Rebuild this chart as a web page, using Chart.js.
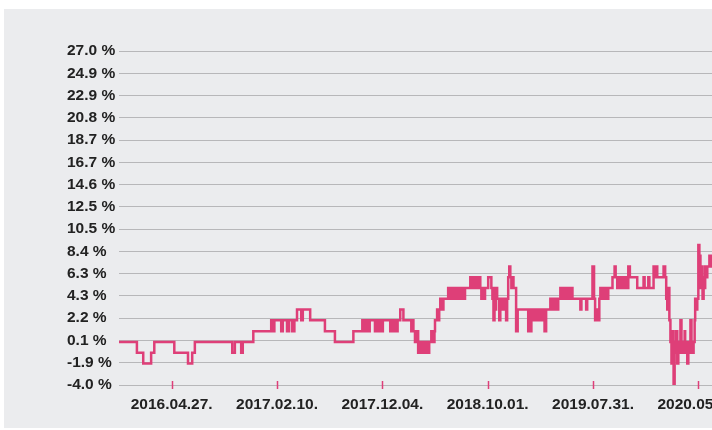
<!DOCTYPE html>
<html>
<head>
<meta charset="utf-8">
<script src="https://cdn.jsdelivr.net/npm/chart.js@4.4.1/dist/chart.umd.min.js"></script>
<style>
  html, body { margin: 0; padding: 0; width: 712px; height: 430px; overflow: hidden; background: #ffffff; }
  #panel { position: absolute; left: 4px; top: 9px; width: 800px; height: 419px; background: #ebecee; }
  #c { position: absolute; left: 0; top: 0; }
</style>
</head>
<body>
<div id="panel"></div>
<canvas id="c" width="760" height="430"></canvas>
<script>
// Trading-day index at which each value starts (step series)
const stepDays = [
  0, 34, 46, 61, 67, 105, 131, 139, 144, 215, 220, 232, 235, 255,
  289, 292, 295, 308, 311, 319, 323, 329, 333, 338, 346, 349, 363, 391, 410, 445,
  462, 464, 466, 468, 471, 473, 476, 486, 489, 492, 494, 498, 501, 515, 518, 521, 523, 527, 529,
  534, 540, 555, 557, 559, 562, 564, 568, 572, 574, 578, 580, 583, 585, 589,
  593, 597, 599, 600, 604, 606, 608, 610, 614, 616,
  625, 627, 629, 633, 635, 638, 640, 644, 646, 650, 652, 656, 657,
  667, 669, 671, 675, 676, 680, 682, 686, 688, 690, 694, 695,
  701, 707, 709, 711, 713, 714, 716, 718, 722, 724, 726, 730, 732, 733, 735, 737,
  739, 741, 743, 745, 747, 749, 754, 757,
  777, 779, 781, 783, 785, 787, 790, 792, 796, 798, 802, 804, 808, 811,
  819, 821, 823, 827, 828, 832, 834, 838, 840, 842, 845, 847, 851, 853, 857, 859, 861,
  876, 878, 887, 889, 899, 902, 904, 908, 910, 912, 914, 916, 918, 922, 923, 927, 929,
  937, 941, 943, 946, 950, 952, 956, 958, 961, 963, 967, 970,
  984, 996, 998, 1005, 1007, 1015, 1017, 1018, 1022, 1034, 1037,
  1039, 1041, 1043, 1045, 1047, 1049, 1051, 1053, 1055, 1056, 1058, 1060, 1062, 1064,
  1066, 1068, 1070, 1072, 1074, 1075, 1077, 1079, 1081, 1083, 1085, 1087, 1089, 1091,
  1093, 1094, 1096, 1098, 1100, 1102, 1104, 1106, 1108, 1110, 1112, 1113, 1115, 1117,
  1121, 1125, 1127, 1142
];
// Return (%) value held from each of those days
const stepValues = [
  0, -1, -2, -1, 0, -1, -2, -1, 0, -1, 0, -1, 0, 1,
  2, 1, 2, 1, 2, 1, 2, 1, 2, 3, 2, 3, 2, 1, 0, 1,
  2, 1, 2, 1, 2, 1, 2, 1, 2, 1, 2, 1, 2, 1, 2, 1, 2, 1, 2,
  3, 2, 1, 2, 1, 0, 1, -1, 0, -1, 0, -1, 0, -1, 0,
  1, 0, 1, 2, 3, 2, 3, 4, 3, 4,
  5, 4, 5, 4, 5, 4, 5, 4, 5, 4, 5, 4, 5,
  6, 5, 6, 5, 6, 5, 6, 5, 4, 5, 4, 5,
  6, 5, 4, 2, 5, 3, 5, 4, 2, 4, 3, 4, 3, 4, 2, 4,
  6, 7, 6, 5, 6, 5, 1, 3,
  1, 3, 1, 3, 2, 3, 2, 3, 2, 3, 2, 3, 1, 3,
  4, 3, 4, 3, 4, 3, 4, 5, 4, 5, 4, 5, 4, 5, 4, 5, 4,
  3, 4, 3, 4, 7, 4, 2, 3, 2, 4, 5, 4, 5, 4, 5, 4, 5,
  6, 7, 6, 5, 6, 5, 6, 5, 6, 5, 7, 6,
  5, 6, 5, 6, 5, 7, 6, 7, 6, 7, 6,
  4, 3, 5, 2, 0, -2, 1, -4, 0, -1, 1, -2, 0, -1,
  2, -1, 0, -1, 1, -1, 0, -2, 0, -1, 2, 0, -1, 0,
  2, 4, 3, 4, 9, 8, 5, 7, 4, 6, 5, 7, 6, 7,
  8, 7, 8, 8
];
const xTickDays = [100, 300, 500, 700, 900, 1100];
const xTickLabels = ['2016.04.27.', '2017.02.10.', '2017.12.04.', '2018.10.01.', '2019.07.31.', '2020.05.19.'];
const yTickLabels = ['-4.0 %', '-1.9 %', '0.1 %', '2.2 %', '4.3 %', '6.3 %', '8.4 %', '10.5 %',
  '12.5 %', '14.6 %', '16.7 %', '18.7 %', '20.8 %', '22.9 %', '24.9 %', '27.0 %'];
const yMin = -4.0, yMax = 27.0;

const pink = '#de3f78';
const font = { family: 'Liberation Sans, Arial, sans-serif', weight: 'bold', size: 15.5 };

const tickMarks = {
  id: 'tickMarks',
  afterDraw(chart) {
    const xs = chart.scales.x, ctx = chart.ctx, b = chart.chartArea.bottom;
    ctx.save();
    ctx.strokeStyle = pink;
    ctx.lineWidth = 1.5;
    xTickDays.forEach(d => {
      const px = Math.round(xs.getPixelForValue(d)) + 0.5;
      ctx.beginPath();
      ctx.moveTo(px, b - 4);
      ctx.lineTo(px, b + 4);
      ctx.stroke();
    });
    ctx.restore();
  }
};

new Chart(document.getElementById('c'), {
  type: 'line',
  data: {
    datasets: [{
      data: stepDays.map((d, i) => ({ x: d, y: stepValues[i] })),
      borderColor: pink,
      borderWidth: 2.5,
      pointRadius: 0,
      stepped: 'before',
      fill: false
    }]
  },
  options: {
    responsive: false,
    animation: false,
    layout: { padding: { left: 67, top: 51, right: 9, bottom: 0 } },
    plugins: { legend: { display: false }, tooltip: { enabled: false } },
    scales: {
      x: {
        type: 'linear',
        min: 0, max: 1200,
        grid: { display: false, drawTicks: false },
        border: { display: false },
        afterFit: s => { s.height = 45; },
        afterBuildTicks: s => { s.ticks = xTickDays.map(v => ({ value: v })); },
        ticks: {
          autoSkip: false, maxRotation: 0, padding: 10,
          color: '#222', font: font,
          callback: (v, i) => xTickLabels[i]
        }
      },
      y: {
        min: yMin, max: yMax,
        grid: { color: '#b7b7b9', lineWidth: 1, drawTicks: false },
        border: { display: false },
        afterFit: s => { s.width = 52; },
        afterBuildTicks: s => {
          s.ticks = yTickLabels.map((_, i) => ({ value: yMin + i * (yMax - yMin) / (yTickLabels.length - 1) }));
        },
        ticks: {
          crossAlign: 'far', padding: 4,
          color: '#222', font: font,
          callback: (v, i) => yTickLabels[i]
        }
      }
    }
  },
  plugins: [tickMarks]
});
</script>
</body>
</html>
